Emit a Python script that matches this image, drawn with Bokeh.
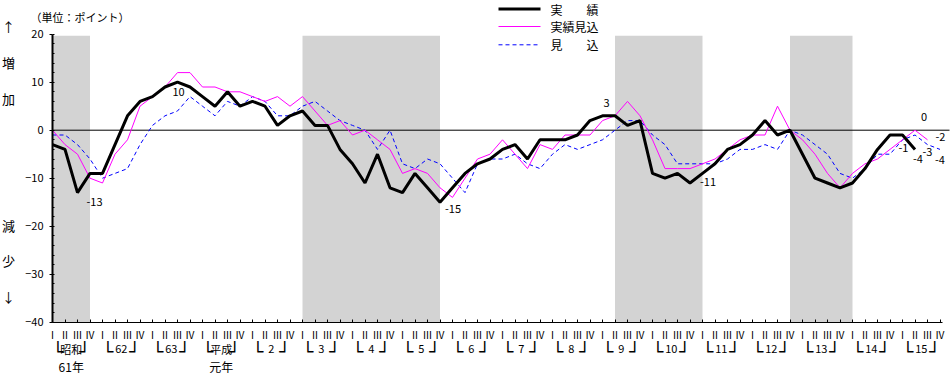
from bokeh.plotting import figure
from bokeh.models import (ColumnDataSource, FixedTicker, LabelSet, Label,
                          Range1d)
from bokeh.core.properties import value
from bokeh.embed import file_html
from bokeh.resources import INLINE

# ---------------- data ----------------
year_labels = ["昭和", "62", "63", "平成", "2", "3", "4", "5", "6", "7", "8",
               "9", "10", "11", "12", "13", "14", "15"]
era_year_pos = [0, 3]            # year groups that carry a second line
era_year_text = ["61年", "元年"]
quarter_labels = ["Ⅰ", "Ⅱ", "Ⅲ", "Ⅳ"]
series_names = ["実　　績", "実績見込", "見　　込"]

# 実績 (actual), 昭和61 I .. 平成15 II
jisseki = [-3, -4, -13, -9, -9, -3, 3, 6, 7, 9, 10, 9, 7, 5, 8, 5, 6, 5, 1, 3,
           4, 1, 1, -4, -7, -11, -5, -12, -13, -9, -12, -15, -12, -9, -7, -6,
           -4, -3, -6, -2, -2, -2, -1, 2, 3, 3, 1, 2, -9, -10, -9, -11, -9, -7,
           -4, -3, -1, 2, -1, 0, -5, -10, -11, -12, -11, -8, -4, -1, -1, -4]
# 実績見込 (expected actual), .. 平成15 III
jisseki_mikomi = [0, -3, -5, -10, -11, -5, -2, 5, 7, 9, 12, 12, 9, 9, 8, 8, 7, 6,
                  7, 5, 7, 4, 1, 2, -1, 0, -2, -4, -9, -8, -9, -12, -14, -10, -6,
                  -5, -2, -5, -8, -3, -4, -1, -1, -1, 2, 3, 6, 3, -2, -8, -8, -8,
                  -7, -6, -4, -2, -1, -1, 5, 0, -2, -5, -9, -12, -9, -7, -6, -4,
                  -2, 0, -2]
# 見込 (forecast), .. 平成15 IV
mikomi = [-1, -1, -3, -6, -10, -9, -8, -3, 1, 3, 4, 7, 5, 3, 6, 5, 7, 6, 3, 3,
          5, 6, 4, 2, 1, 0, -4, 0, -7, -8, -6, -7, -10, -13, -7, -6, -6, -5, -7,
          -8, -5, -3, -4, -3, -2, 0, 2, 2, -1, -3, -7, -7, -7, -7, -6, -4, -4,
          -3, -4, 0, -1, -3, -5, -9, -10, -8, -5, -5, -2, -1, -3, -4]

# shaded (recession) periods, in quarter index units
recession_start = [0, 20, 45, 59]
recession_end = [3, 31, 52, 64]

# quarters that carry a value label
jisseki_label_idx = [2, 10, 31, 44, 51, 68, 69]
jisseki_mikomi_label_idx = [69, 70]
mikomi_label_idx = [70, 71]

# ---------------- layout (canvas pixels) ----------------
W, H = 951, 374
X0_PX, PX_X = 52.0, 12.5          # quarter 0 position, px per quarter
Y0_PX, PX_Y = 129.7, 4.8          # value 0 position, px per point
FONT = "Noto Sans CJK JP"
n_q = 4 * len(year_labels)

STYLES = [dict(line_color="black", line_width=3),
          dict(line_color="#ff00ff", line_width=1),
          dict(line_color="#0000ff", line_width=1, line_dash="4 3")]


def px_x(px):
    return (px - X0_PX) / PX_X


def px_y(py):
    return (Y0_PX - py) / PX_Y


p = figure(width=W, height=H, output_backend="svg", toolbar_location=None,
           x_range=Range1d(px_x(0), px_x(W)), y_range=Range1d(px_y(H), px_y(0)),
           min_border=0, min_border_left=0, min_border_right=0,
           min_border_top=0, min_border_bottom=0)
p.outline_line_color = None
p.xgrid.visible = False
p.ygrid.visible = False
p.background_fill_color = "white"
p.border_fill_color = "white"

# shading
p.quad(left=recession_start, right=recession_end, bottom=-40, top=19.7,
       fill_color="#d3d3d3", line_color=None)

# zero line
p.segment(x0=[0], y0=[0], x1=[px_x(949)], y1=[0], line_color="black",
          line_width=1)

xs = list(range(n_q))
p.line(xs[:len(mikomi)], mikomi, **STYLES[2])
p.line(xs[:len(jisseki_mikomi)], jisseki_mikomi, **STYLES[1])
p.line(xs[:len(jisseki)], jisseki, **STYLES[0])

# axes (fixed inside the canvas-sized frame)
ya = p.yaxis[0]
ya.fixed_location = 0
ya.bounds = (-40, 20)
ya.ticker = FixedTicker(ticks=list(range(-40, 21, 10)),
                        minor_ticks=list(range(-40, 21, 2)))
ya.axis_line_width = 2
ya.axis_line_color = "black"
ya.major_tick_line_color = "black"
ya.minor_tick_line_color = "black"
ya.major_tick_out = 3
ya.major_tick_in = 0
ya.minor_tick_in = 2
ya.minor_tick_out = 0
ya.major_label_standoff = 6
ya.major_label_text_font = FONT
ya.major_label_text_font_size = "11px"
ya.major_label_text_color = "black"

xa = p.xaxis[0]
xa.fixed_location = -40
xa.bounds = (0, px_x(942))
xa.ticker = FixedTicker(ticks=xs)
xa.major_label_overrides = {i: quarter_labels[i % 4] for i in xs}
xa.axis_line_color = "black"
xa.major_tick_line_color = "black"
xa.major_tick_in = 3
xa.major_tick_out = 0
xa.minor_tick_in = 0
xa.minor_tick_out = 0
xa.major_label_standoff = 5
xa.major_label_text_font = FONT
xa.major_label_text_font_size = "10px"
xa.major_label_text_color = "black"

# year bracket row
yr_src = ColumnDataSource(dict(
    xc=[4 * k + 1.5 for k in range(len(year_labels))],
    xl=[4 * k for k in range(len(year_labels))],
    xr=[4 * k + 3 for k in range(len(year_labels))],
    y=[px_y(348)] * len(year_labels),
    yb=[px_y(351)] * len(year_labels),
    t=year_labels,
    bl=["└"] * len(year_labels),
    br=["┘"] * len(year_labels),
))
p.add_layout(LabelSet(x="xc", y="y", text="t", source=yr_src,
                      text_align="center", text_baseline="middle",
                      text_font=value(FONT), text_font_size="11px",
                      text_color="black"))
p.add_layout(LabelSet(x="xl", y="yb", text="bl", source=yr_src,
                      text_align="left", text_baseline="middle",
                      text_font=value("DejaVu Sans Mono"), text_font_size="18px",
                      text_color="black"))
p.add_layout(LabelSet(x="xr", y="yb", text="br", source=yr_src,
                      text_align="right", text_baseline="middle",
                      text_font=value("DejaVu Sans Mono"), text_font_size="18px",
                      text_color="black"))
era_src = ColumnDataSource(dict(
    x=[4 * k + 1.5 for k in era_year_pos],
    y=[px_y(366)] * len(era_year_pos),
    t=era_year_text))
p.add_layout(LabelSet(x="x", y="y", text="t", source=era_src,
                      text_align="center", text_baseline="middle",
                      text_font=value(FONT), text_font_size="12px",
                      text_color="black"))


# value labels
def label_source(idx, series, dx, dy, align):
    return ColumnDataSource(dict(
        x=idx, y=[series[i] for i in idx], t=[str(series[i]) for i in idx],
        dx=dx, dy=dy, a=align))


lab_sources = [
    label_source(jisseki_label_idx, jisseki,
                 [9, 1, 5, 4, 10, 1, 3], [-9, -10, -7, 13, 1, -13, -10],
                 ["left", "center", "left", "center", "left", "center", "center"]),
    label_source(jisseki_mikomi_label_idx, jisseki_mikomi,
                 [9, 8], [13, 3], ["center", "left"]),
    label_source(mikomi_label_idx, mikomi, [0, 0], [-7, -11],
                 ["center", "center"]),
]
for src in lab_sources:
    p.add_layout(LabelSet(x="x", y="y", text="t", source=src,
                          x_offset="dx", y_offset="dy", text_align="a",
                          text_baseline="middle", text_font=value(FONT),
                          text_font_size="11px", text_color="black"))

# side texts
side = [("↑", 26), ("増", 62), ("加", 98), ("減", 225), ("少", 260), ("↓", 296)]
for t, ry in side:
    p.add_layout(Label(x=px_x(8), y=px_y(ry), text=t,
                       text_align="center", text_baseline="middle",
                       text_font=FONT, text_font_size="13px",
                       text_color="black"))
p.add_layout(Label(x=px_x(30), y=px_y(16), text="（単位：ポイント）",
                   text_align="left", text_baseline="middle", text_font=FONT,
                   text_font_size="11px", text_color="black"))

# key (legend) at the top: sample line + name for each series
key_rows_px = [8.5, 26, 44.3]
for name, style, ry in zip(series_names, STYLES, key_rows_px):
    p.line(x=[px_x(498), px_x(540)], y=[px_y(ry), px_y(ry)], **style)
    p.add_layout(Label(x=px_x(550), y=px_y(ry), text=name, text_align="left",
                       text_baseline="middle", text_font=FONT,
                       text_font_size="12px", text_color="black"))

open("out.html", "w").write(file_html(p, INLINE))
